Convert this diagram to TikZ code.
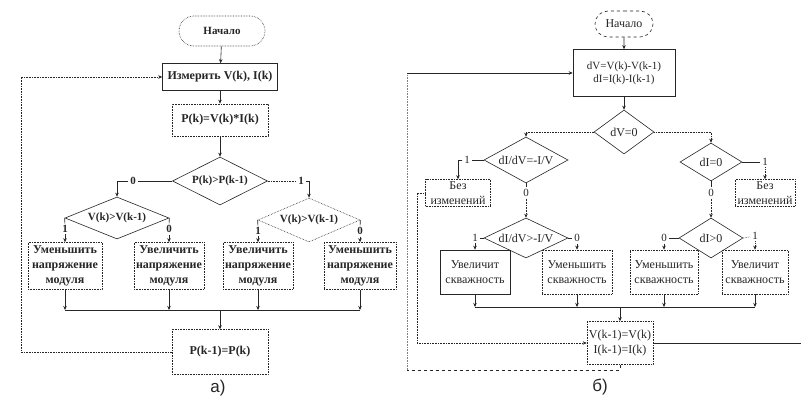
\documentclass[tikz,border=0pt]{standalone}
\usepackage{fontspec}
\setmainfont{Liberation Serif}
\newfontfamily\capfont{Liberation Sans}
\usetikzlibrary{shapes.geometric,shapes.misc,arrows.meta}
\begin{document}
\begin{tikzpicture}[x=1pt,y=-1pt,line width=0.6pt,color=black!85,
  arr/.style={-{Stealth[length=4pt,width=3.5pt]}},
  dotln/.style={densely dotted},
  fa/.style={font=\bfseries\fontsize{11}{13}\selectfont},
  fab/.style={font=\bfseries\fontsize{12}{15}\selectfont},
  fb/.style={font=\fontsize{11}{13}\selectfont},
  fbb/.style={font=\fontsize{12}{15}\selectfont},
  boxa/.style={draw,densely dotted,rectangle,align=center,inner sep=1pt,fab},
  boxb/.style={draw,rectangle,align=center,inner sep=1pt,fbb},
  dia/.style={draw,diamond,inner sep=0pt,aspect=2},
  term/.style={draw,rounded rectangle,inner sep=2pt},
  lbla/.style={inner sep=1.5pt,fa},
  lblb/.style={inner sep=1.5pt,fb},
  captext/.style={font=\capfont\fontsize{17}{17}\selectfont}]
\useasboundingbox (0,0) rectangle (801,403);
\fill[white] (0,0) rectangle (801,403);

% ---------------- scheme a) : P&O algorithm ----------------
\node[term,densely dotted,fa,minimum width=90,minimum height=30] (a0) at (222,31) {Начало};
\node[boxa,solid,minimum width=115,minimum height=27] (a1) at (220,77) {Измерить V(k), I(k)};
\node[boxa,minimum width=96,minimum height=32] (a2) at (220,120) {P(k)=V(k)*I(k)};
\node[dia,fa,minimum width=95,minimum height=48] (a3) at (220,181) {P(k)>P(k-1)};
\node[lbla] (a3l) at (133,181) {0};
\node[lbla] (a3r) at (301,181) {1};
\node[dia,fa,minimum width=104,minimum height=42] (a4) at (117,218) {V(k)>V(k-1)};
\node[dia,densely dotted,fa,minimum width=102,minimum height=44] (a5) at (309,220) {V(k)>V(k-1)};
\node[lbla] (a4l) at (65,229) {1};
\node[lbla] (a4r) at (169,229) {0};
\node[lbla] (a5l) at (258,231) {1};
\node[lbla] (a5r) at (360,231) {0};
\node[boxa,minimum width=74,minimum height=47] (a6) at (65,266) {Уменьшить\\напряжение\\модуля};
\node[boxa,minimum width=70,minimum height=47] (a7) at (169,266) {Увеличить\\напряжение\\модуля};
\node[boxa,minimum width=70,minimum height=47] (a8) at (258,266) {Увеличить\\напряжение\\модуля};
\node[boxa,minimum width=72,minimum height=47] (a9) at (360,266) {Уменьшить\\напряжение\\модуля};
\node[boxa,minimum width=96,minimum height=45] (a10) at (220,352) {P(k-1)=P(k)};
\coordinate (ab) at (220,310);
\coordinate (aL) at (21,0);

\draw[arr] (a0) -- (a1);
\draw[arr] (a1) -- (a2);
\draw[arr] (a2) -- (a3);
\draw (a3.west) -- (a3l);
\draw[arr] (a3l) -| (a4.north);
\draw[dotln] (a3.east) -- (a3r);
\draw[arr] (a3r) -| (a5.north);
\draw (a4.west) -- (a4l);  \draw[arr] (a4l) -- (a6.north);
\draw (a4.east) -- (a4r);  \draw[arr] (a4r) -- (a7.north);
\draw (a5.west) -- (a5l);  \draw[arr] (a5l) -- (a8.north);
\draw (a5.east) -- (a5r);  \draw[arr] (a5r) -- (a9.north);
\foreach \b in {a6,a7,a8,a9} \draw[arr] (\b.south) -- (\b.south |- ab);
\draw (a6.south |- ab) -- (a9.south |- ab);
\draw[arr] (ab) -- (a10.north);
\draw[dotln,arr] (a10.west) -- (a10.west -| aL) -- (aL |- a1.west) -- (a1.west);
\node[captext] (capa) at (218,388) {а)};

% ---------------- scheme b) : incremental conductance ----------------
\node[term,dashed,fbb,minimum width=62,minimum height=26] (b0) at (624,24) {Начало};
\node[boxb,fb,minimum width=102,minimum height=47] (b1) at (624,73) {dV=V(k)-V(k-1)\\dI=I(k)-I(k-1)};
\node[dia,fbb,minimum width=60,minimum height=44] (b2) at (624,132) {dV=0};
\node[dia,fbb,minimum width=84,minimum height=46] (b3) at (526,160) {dI/dV=-I/V};
\node[dia,fbb,minimum width=62,minimum height=38] (b4) at (711,162) {dI=0};
\node[lblb] (b3l) at (467,160) {1};
\node[lblb] (b3b) at (526,193) {0};
\node[lblb] (b4r) at (765,162) {1};
\node[lblb] (b4b) at (711,193) {0};
\node[boxb,densely dotted,minimum width=65,minimum height=27] (b5) at (458,193) {Без\\изменений};
\node[boxb,densely dotted,minimum width=60,minimum height=27] (b7) at (765,193) {Без\\изменений};
\node[dia,fbb,minimum width=84,minimum height=40] (b6) at (526,238) {dI/dV>-I/V};
\node[dia,fbb,minimum width=64,minimum height=40] (b12) at (711,238) {dI>0};
\node[lblb] (b6l) at (475,238) {1};
\node[lblb] (b6r) at (577,238) {0};
\node[lblb] (b12l) at (664,238) {0};
\node[lblb] (b12r) at (755,236) {1};
\node[boxb,minimum width=70,minimum height=44] (b8) at (475,272) {Увеличит\\скважность};
\node[boxb,densely dotted,minimum width=70,minimum height=44] (b9) at (577,272) {Уменьшить\\скважность};
\node[boxb,densely dotted,minimum width=68,minimum height=44] (b10) at (664,272) {Уменьшить\\скважность};
\node[boxb,densely dotted,minimum width=66,minimum height=44] (b11) at (755,272) {Увеличит\\скважность};
\node[boxb,densely dotted,minimum width=66,minimum height=43] (b13) at (620,343) {V(k-1)=V(k)\\I(k-1)=I(k)};
\coordinate (bb) at (620,307);
\coordinate (bL1) at (407,370);
\coordinate (bL2) at (417,0);
\coordinate (bR) at (801,0);

\draw[arr] (b0) -- (b1);
\draw[arr] (b1) -- (b2);
\draw[dotln,arr] (b2.west) -| (b3.north);
\draw[dotln,arr] (b2.east) -| (b4.north);
\draw (b3.west) -- (b3l);  \draw[arr] (b3l) -| (b5.north);
\draw (b3.south) -- (b3b); \draw[dotln,arr] (b3b) -- (b6.north);
\draw (b4.east) -- (b4r);  \draw[dotln,arr] (b4r) -- (b7.north);
\draw (b4.south) -- (b4b); \draw[dotln,arr] (b4b) -- (b12.north);
\draw (b6.west) -- (b6l);  \draw[arr] (b6l) -- (b8.north);
\draw (b6.east) -- (b6r);  \draw[arr] (b6r) -- (b9.north);
\draw (b12.west) -- (b12l); \draw[arr] (b12l) -- (b10.north);
\draw[dotln] (b12.east) -- (b12r); \draw[dotln,arr] (b12r) -- (b11.north);
\foreach \b in {b8,b9,b10,b11} \draw[arr] (\b.south) -- (\b.south |- bb);
\draw[line width=0.9pt] (b8.south |- bb) -- (b11.south |- bb);
\draw[arr] (bb) -- (b13.north);
\draw[dotln,arr] (b5.west) -- (b5.west -| bL2) -- (bL2 |- b13.west) -- (b13.west);
\draw (b13.east) -- (b13.east -| bR);
\draw[dashed] (b13.south) |- (bL1);
\draw[dotln,black!50] (bL1) -- (bL1 |- b1.west);
\draw[arr] (bL1 |- b1.west) -- (b1.west);
\node[captext] (capb) at (600,387) {б)};
\end{tikzpicture}
\end{document}
